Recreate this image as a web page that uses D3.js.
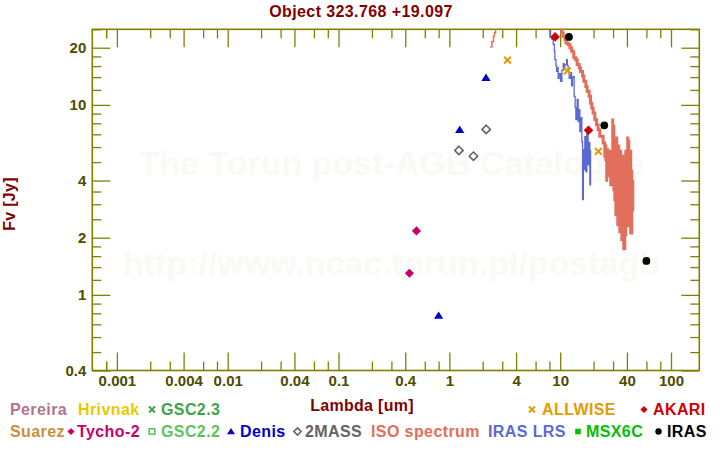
<!DOCTYPE html>
<html>
<head>
<meta charset="utf-8">
<script src="https://cdn.jsdelivr.net/npm/d3@7"></script>
<style>
  body { margin: 0; background: #fff; }
  svg { display: block; font-family: "Liberation Sans", Arial, sans-serif; font-weight: bold; }
</style>
</head>
<body>
<svg id="chart" width="720" height="450"></svg>
<script>
// photometry, each point is [lambda in um, flux in Jy]
const tycho2 = [[0.436, 1.30], [0.505, 2.17]];
const denis = [[0.80, 0.777], [1.24, 7.4], [2.14, 13.9]];
const twoMass = [[1.22, 5.76], [1.65, 5.37], [2.15, 7.43]];
const allwise = [[3.35, 17.2], [11.6, 15.1], [22.1, 5.69]];
const akari = [[9.0, 22.8], [18.0, 7.35]];
const iras = [[12, 22.8], [25, 7.81], [60, 1.51]];

// spectra
const isoShort = [[2.34, 20.2], [2.42, 21.5], [2.50, 22.9], [2.55, 24.0], [2.61, 25.2], [2.66, 26.4]];
const isoLong = [
    [10.0, 26.0], [10.08, 25.2], [10.29, 24.0], [10.64, 23.0], [11.02, 22.1], [11.26, 21.2],
    [11.80, 20.8], [12.23, 20.0], [12.67, 19.2], [13.10, 18.8], [13.29, 17.7], [13.85, 17.3],
    [14.23, 16.3], [14.84, 15.7], [15.27, 15.0], [15.92, 14.2], [16.35, 13.3], [17.04, 12.5],
    [17.51, 11.8], [18.25, 11.1], [18.79, 10.2], [19.30, 9.64], [19.83, 9.07], [20.54, 8.37],
    [21.28, 7.87], [22.00, 7.41], [22.79, 6.83], [24.40, 6.30], [25.27, 5.36],
    [25.8, 6.18], [25.8, 5.15], [26.3, 3.94], [26.3, 5.81], [26.9, 4.84], [27.5, 5.81], [27.5, 4.56],
    [28.0, 5.15], [28.0, 4.24], [28.6, 5.81], [28.6, 3.80], [29.2, 4.84], [29.8, 8.47], [29.8, 4.56],
    [30.5, 7.87], [30.5, 3.58], [31.1, 6.56], [31.1, 3.17], [31.8, 5.81], [31.8, 2.64], [32.4, 6.81],
    [32.4, 3.37], [33.1, 5.81], [33.1, 2.34], [33.8, 6.18], [33.8, 2.81], [34.5, 5.15], [34.5, 2.15],
    [35.2, 5.81], [35.2, 2.64], [36.0, 4.56], [36.0, 1.95], [36.7, 5.47], [36.7, 2.34], [37.5, 4.29],
    [37.5, 1.75], [38.3, 4.84], [38.3, 2.07], [39.1, 5.81], [39.1, 2.49], [39.9, 4.56], [39.9, 2.81],
    [40.7, 6.81], [40.7, 3.17], [41.6, 6.56], [41.6, 2.31], [42.5, 5.15], [42.5, 2.64], [43.3, 5.81],
    [43.3, 2.12], [44.3, 4.56], [44.3, 2.81], [45.2, 4.04], [45.2, 3.17]
];
const irasLrs = [
    [7.96, 24.6], [8.19, 22.9], [8.42, 22.1], [8.65, 20.8], [8.87, 19.1], [8.96, 17.3], [9.15, 16.1],
    [9.28, 15.0], [9.44, 15.7], [9.59, 13.8], [9.79, 14.6], [10.08, 13.3], [10.36, 15.2], [10.64, 16.5],
    [10.84, 15.4], [11.02, 16.3], [11.42, 17.3], [11.61, 16.1], [11.80, 15.0], [12.05, 13.8],
    [12.41, 14.8], [12.67, 12.6], [12.88, 13.9], [13.10, 14.1], [13.37, 11.1], [13.65, 9.68],
    [13.85, 8.37], [14.23, 10.7], [14.53, 8.17], [14.84, 9.44], [15.05, 7.23], [15.37, 8.57],
    [15.69, 6.40], [15.92, 3.17], [16.18, 5.81], [16.35, 4.56], [16.69, 6.81], [17.04, 4.45],
    [17.40, 7.41], [17.88, 4.84], [18.14, 6.33], [18.52, 3.80], [18.79, 5.81]
];

// ticks
const xMajor = [0.001, 0.004, 0.01, 0.04, 0.1, 0.4, 1, 4, 10, 40, 100];
const xMinorSteps = [2, 3, 6, 8];
const yMajor = [0.4, 1, 2, 4, 10, 20];
const yMinor = [0.5, 0.6, 0.7, 0.8, 0.9, 1.2, 1.4, 1.6, 1.8, 2.5, 3, 3.5, 5, 6, 7, 8, 9, 12, 14, 16, 18, 25];

// legend entries (marker drawn before label where there is one)
const legendItems = [
    { label: 'Pereira', color: '#b4728e', x: 10, row: 0 },
    { label: 'Hrivnak', color: '#ecc800', x: 78, row: 0 },
    { label: 'GSC2.3', color: '#3fa447', x: 161, row: 0, marker: 'cross', mx: 152 },
    { label: 'ALLWISE', color: '#e39b00', x: 542, row: 0, marker: 'cross', mx: 532 },
    { label: 'AKARI', color: '#d20000', x: 653, row: 0, marker: 'diamond', mx: 644 },
    { label: 'Suarez', color: '#c8903c', x: 10, row: 1 },
    { label: 'Tycho-2', color: '#c8006a', x: 77, row: 1, marker: 'diamond', mx: 71 },
    { label: 'GSC2.2', color: '#5fc25f', x: 161, row: 1, marker: 'squareOpen', mx: 152 },
    { label: 'Denis', color: '#0000c8', x: 240, row: 1, marker: 'triangle', mx: 231 },
    { label: '2MASS', color: '#646464', x: 305, row: 1, marker: 'diamondOpen', mx: 297.5 },
    { label: 'ISO spectrum', color: '#e26e5c', x: 371, row: 1 },
    { label: 'IRAS LRS', color: '#5a6ad2', x: 488, row: 1 },
    { label: 'MSX6C', color: '#00c000', x: 586, row: 1, marker: 'square', mx: 578 },
    { label: 'IRAS', color: '#000000', x: 667, row: 1, marker: 'circle', mx: 658.5 }
];

const axisColor = '#808000';
const labelColor = '#4c4c00';
const titleColor = '#800000';

const svg = d3.select('#chart');
const plot = { left: 92.3, right: 699.3, top: 29.3, bottom: 370.5 };

const x = d3.scaleLog().domain([0.0006, 180]).range([plot.left, plot.right]);
const y = d3.scaleLog().domain([0.4, 25]).range([plot.bottom, plot.top]);

// minor x ticks for every decade inside the domain
const xMinor = [];
for (let p = -4; p <= 2; p++) {
    xMinorSteps.forEach(s => {
        const v = s * Math.pow(10, p);
        if (v > 0.00061 && v < 180) xMinor.push(v);
    });
}
xMinor.push(0.0008);

// faint watermark
svg.append('g')
    .attr('fill', '#fbf9f3')
    .style('font-size', '34px')
    .attr('text-anchor', 'middle')
    .selectAll('text')
    .data([['The Torun post-AGB Catalogue', 175], ['http://www.ncac.torun.pl/postagb', 275]])
    .enter()
    .append('text')
    .attr('x', 391.5)
    .attr('y', d => d[1])
    .text(d => d[0]);

// axes: long labelled ticks and short ticks on all four sides, pointing inward
function styleAxis(g) {
    g.select('.domain').remove();
    g.selectAll('line').attr('stroke', axisColor).attr('stroke-width', 1.3);
    g.selectAll('text')
        .attr('fill', labelColor)
        .style('font-size', '15px')
        .style('font-family', '"Liberation Sans", Arial, sans-serif')
        .style('font-weight', 'bold');
}

svg.append('g').attr('transform', `translate(0,${plot.bottom})`)
    .call(d3.axisBottom(x).tickValues(xMajor).tickSize(-18).tickPadding(5).tickFormat(d => String(d)))
    .call(styleAxis);
svg.append('g').attr('transform', `translate(0,${plot.bottom})`)
    .call(d3.axisBottom(x).tickValues(xMinor).tickSize(-9).tickFormat(''))
    .call(styleAxis);
svg.append('g').attr('transform', `translate(0,${plot.top})`)
    .call(d3.axisTop(x).tickValues(xMajor).tickSize(-18).tickFormat(''))
    .call(styleAxis);
svg.append('g').attr('transform', `translate(0,${plot.top})`)
    .call(d3.axisTop(x).tickValues(xMinor).tickSize(-9).tickFormat(''))
    .call(styleAxis);

svg.append('g').attr('transform', `translate(${plot.left},0)`)
    .call(d3.axisLeft(y).tickValues(yMajor).tickSize(-18).tickPadding(6).tickFormat(d => String(d)))
    .call(styleAxis);
svg.append('g').attr('transform', `translate(${plot.left},0)`)
    .call(d3.axisLeft(y).tickValues(yMinor).tickSize(-9).tickFormat(''))
    .call(styleAxis);
svg.append('g').attr('transform', `translate(${plot.right},0)`)
    .call(d3.axisRight(y).tickValues(yMajor).tickSize(-18).tickFormat(''))
    .call(styleAxis);
svg.append('g').attr('transform', `translate(${plot.right},0)`)
    .call(d3.axisRight(y).tickValues(yMinor).tickSize(-9).tickFormat(''))
    .call(styleAxis);

// frame
svg.append('rect')
    .attr('x', plot.left)
    .attr('y', plot.top)
    .attr('width', plot.right - plot.left)
    .attr('height', plot.bottom - plot.top)
    .attr('fill', 'none')
    .attr('stroke', axisColor)
    .attr('stroke-width', 1.6);

// clip for spectra
svg.append('clipPath').attr('id', 'plot-clip')
    .append('rect')
    .attr('x', plot.left)
    .attr('y', plot.top)
    .attr('width', plot.right - plot.left)
    .attr('height', plot.bottom - plot.top);

const line = d3.line()
    .x(d => x(d[0]))
    .y(d => y(d[1]))
    .curve(d3.curveStepAfter);

const spectra = svg.append('g').attr('clip-path', 'url(#plot-clip)');
spectra.append('path').attr('d', line(isoShort))
    .attr('fill', 'none').attr('stroke', '#e26e5c').attr('stroke-width', 1.5);
spectra.append('path').attr('d', line(irasLrs))
    .attr('fill', 'none').attr('stroke', '#5a6ad2').attr('stroke-width', 1.3);
spectra.append('path').attr('d', line(isoLong))
    .attr('fill', 'none').attr('stroke', '#e26e5c').attr('stroke-width', 3);

// marker shapes, drawn around 0,0
function markerPath(type, r) {
    if (type === 'diamond' || type === 'diamondOpen') {
        return `M0,${-r}L${r},0L0,${r}L${-r},0Z`;
    }
    if (type === 'triangle') {
        return `M0,${-r}L${r * 1.1},${r * 0.75}L${-r * 1.1},${r * 0.75}Z`;
    }
    if (type === 'square' || type === 'squareOpen') {
        return `M${-r},${-r}H${r}V${r}H${-r}Z`;
    }
    if (type === 'cross') {
        return `M${-r},${-r}L${r},${r}M${r},${-r}L${-r},${r}`;
    }
    return d3.symbol().type(d3.symbolCircle).size(Math.PI * r * r)();
}

function drawMarker(g, type, color, r) {
    const p = g.append('path').attr('d', markerPath(type, r));
    if (type === 'cross') {
        p.attr('fill', 'none').attr('stroke', color).attr('stroke-width', 2);
    } else if (type === 'diamondOpen' || type === 'squareOpen') {
        p.attr('fill', '#fff').attr('stroke', color).attr('stroke-width', 1.6);
    } else {
        p.attr('fill', color);
    }
}

const photometry = [
    { data: tycho2, type: 'diamond', color: '#c8006a', r: 4.6 },
    { data: denis, type: 'triangle', color: '#0000c8', r: 4.2 },
    { data: twoMass, type: 'diamondOpen', color: '#646464', r: 4.2 },
    { data: allwise, type: 'cross', color: '#e39b00', r: 3.4 },
    { data: akari, type: 'diamond', color: '#d20000', r: 4.8 },
    { data: iras, type: 'circle', color: '#000000', r: 3.9 }
];

photometry.forEach(s => {
    s.data.forEach(d => {
        const g = svg.append('g').attr('transform', `translate(${x(d[0])},${y(d[1])})`);
        drawMarker(g, s.type, s.color, s.r);
    });
});

// title and axis titles
svg.append('text')
    .attr('x', 361).attr('y', 17)
    .attr('text-anchor', 'middle')
    .attr('fill', titleColor)
    .style('font-size', '16px')
    .style('letter-spacing', '0.4px')
    .text('Object 323.768 +19.097');

svg.append('text')
    .attr('x', 362).attr('y', 411)
    .attr('text-anchor', 'middle')
    .attr('fill', titleColor)
    .style('font-size', '16px')
    .style('letter-spacing', '0.3px')
    .text('Lambda [um]');

svg.append('text')
    .attr('transform', 'translate(15,204) rotate(-90)')
    .attr('text-anchor', 'middle')
    .attr('fill', titleColor)
    .style('font-size', '16px')
    .style('letter-spacing', '0.3px')
    .text('Fv [Jy]');

// legend
const rowBase = [415, 437];
legendItems.forEach(item => {
    const base = rowBase[item.row];
    if (item.marker) {
        const g = svg.append('g').attr('transform', `translate(${item.mx},${base - 5.5})`);
        const r = item.marker === 'cross' ? 3 : (item.marker === 'circle' ? 3.2 : 3.6);
        drawMarker(g, item.marker, item.color, item.marker.startsWith('square') ? 2.8 : r);
    }
    svg.append('text')
        .attr('x', item.x).attr('y', base)
        .attr('fill', item.color)
        .style('font-size', '16px')
        .style('letter-spacing', '0.4px')
        .text(item.label);
});
</script>
</body>
</html>
